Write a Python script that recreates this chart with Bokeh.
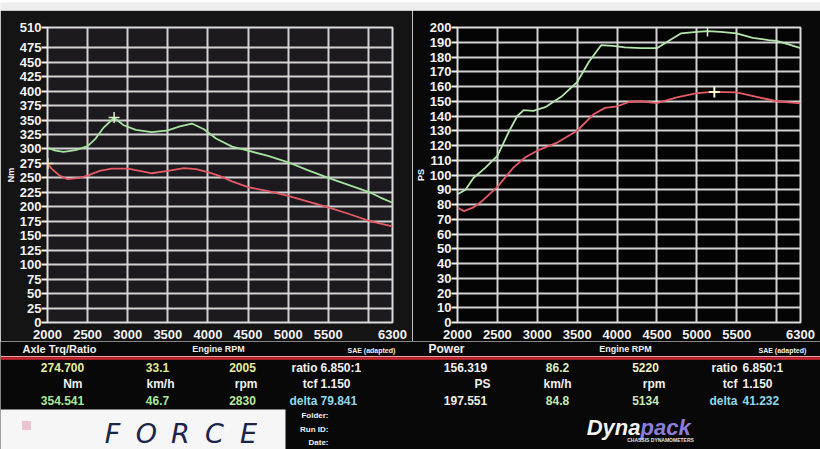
import math
from bokeh.plotting import figure
from bokeh.layouts import column, row
from bokeh.models import FixedTicker, Range1d, Span
from bokeh.embed import file_html
from bokeh.resources import INLINE
from bokeh.core.properties import value

# ---------------- data ----------------
# Axle torque (Nm) vs engine rpm
trq_green_rpm = [2000, 2100, 2200, 2350, 2500, 2600, 2700, 2830, 2950, 3100, 3300, 3500, 3650,
                 3800, 3950, 4100, 4300, 4500, 4750, 5000, 5250, 5500, 5750, 6000, 6150, 6300]
trq_green = [302, 297, 295, 298, 305, 318, 337, 354, 341, 333, 329, 332, 339,
             344, 334, 318, 304, 297, 288, 277, 263, 250, 238, 226, 216, 207]
trq_red_rpm = [2000, 2050, 2150, 2250, 2400, 2500, 2650, 2800, 3000, 3150, 3300, 3500, 3700,
               3850, 4000, 4150, 4300, 4500, 4750, 5000, 5250, 5500, 5750, 6000, 6150, 6300]
trq_red = [275, 266, 254, 248, 250, 254, 262, 266, 266, 262, 258, 262, 267,
           265, 260, 253, 244, 234, 227, 219, 209, 199, 188, 176, 171, 166]

# Power (PS) vs engine rpm
pwr_green_rpm = [2000, 2100, 2200, 2350, 2500, 2650, 2750, 2830, 2950, 3100, 3300, 3500, 3650,
                 3800, 3950, 4100, 4300, 4500, 4650, 4800, 5000, 5134, 5300, 5500, 5700, 5900,
                 6000, 6150, 6300]
pwr_green = [87, 90, 98, 105, 113, 130, 140, 144, 143.5, 146, 153, 163, 177,
             188, 187.5, 186.5, 186, 186, 191, 196, 197, 197.5, 197, 196, 193, 191.5,
             191, 188.5, 186]
pwr_red_rpm = [2000, 2080, 2200, 2300, 2500, 2700, 2850, 3000, 3250, 3500, 3700, 3850, 4000,
               4150, 4300, 4500, 4750, 5000, 5220, 5500, 5750, 6000, 6300]
pwr_red = [78, 75.5, 78, 82, 92, 105, 112, 116.5, 122, 130, 141, 145.5, 146.5,
           149.5, 150, 148.7, 152.7, 155.5, 156.3, 156, 153, 150, 148.5]

# cursor markers
trq_mark_rpm = [2005, 2830]
trq_mark_val = [274.7, 354.541]
pwr_mark_rpm = [5220, 5134]
pwr_mark_val = [156.319, 197.551]

rpm_ticks = [2000, 2500, 3000, 3500, 4000, 4500, 5000, 5500, 6300]
rpm_grid = [2000, 2500, 3000, 3500, 4000, 4500, 5000, 5500, 6000, 6300]
nm_ticks = [0, 25, 50, 75, 100, 125, 150, 175, 200, 225, 250, 275, 300, 325, 350, 375,
            400, 425, 450, 475, 510]
ps_ticks = [0, 10, 20, 30, 40, 50, 60, 70, 80, 90, 100, 110, 120, 130, 140, 150, 160,
            170, 180, 190, 200]

# readout panel
left_row1 = ["274.700", "33.1", "2005"]
left_row3 = ["354.541", "46.7", "2830"]
right_row1 = ["156.319", "86.2", "5220"]
right_row3 = ["197.551", "84.8", "5134"]
units_left = ["Nm", "km/h", "rpm"]
units_right = ["PS", "km/h", "rpm"]
ratio_text = "6.850:1"
tcf_text = "1.150"
delta_left = "79.841"
delta_right = "41.232"

FONT_NAME = "Liberation Sans"
FONT = value(FONT_NAME)
GRID = "#dcdcdc"
GREEN = "#a6e2a0"
RED = "#e65a68"
TOP_H = 331


def make_chart(width, b_left, b_right, b_top, b_bottom, y_max, y_ticks, y_label, bg, outer):
    p = figure(width=width, height=TOP_H, x_range=Range1d(2000, 6300), y_range=Range1d(0, y_max),
               output_backend="svg", toolbar_location=None,
               min_border_left=b_left, min_border_right=b_right, min_border_top=b_top,
               min_border_bottom=b_bottom,
               background_fill_color=bg, border_fill_color=outer,
               outline_line_color=GRID, outline_line_width=2)
    p.xaxis.ticker = FixedTicker(ticks=rpm_ticks)
    p.yaxis.ticker = FixedTicker(ticks=y_ticks)
    p.xgrid.ticker = FixedTicker(ticks=rpm_grid)
    p.ygrid.ticker = FixedTicker(ticks=y_ticks)
    p.grid.grid_line_color = GRID
    p.grid.grid_line_width = 2
    p.grid.grid_line_alpha = 0.95
    p.axis.axis_line_color = None
    p.axis.minor_tick_line_color = None
    p.axis.major_label_text_color = "#f2f2f2"
    p.axis.major_label_text_font = FONT_NAME
    p.axis.major_label_text_font_style = "bold"
    p.axis.major_label_text_font_size = "13px"
    p.xaxis.major_tick_line_color = None
    p.xaxis.major_label_standoff = 1
    p.yaxis.major_tick_line_color = "#f2f2f2"
    p.yaxis.major_tick_line_width = 2
    p.yaxis.major_tick_out = 6
    p.yaxis.major_tick_in = 0
    p.yaxis.major_label_standoff = 0
    p.yaxis.axis_label = y_label
    p.yaxis.axis_label_text_font = FONT_NAME
    p.yaxis.axis_label_text_font_style = "bold"
    p.yaxis.axis_label_text_font_size = "9px"
    p.yaxis.axis_label_text_color = "#f2f2f2"
    p.yaxis.axis_label_standoff = 1
    return p


# thin bright bezel strip at the very top of the photo
strip = figure(width=820, height=10, output_backend="svg", toolbar_location=None, min_border=0,
               x_axis_location=None, y_axis_location=None, x_range=Range1d(0, 1), y_range=Range1d(0, 1),
               background_fill_color="#eeeeee", border_fill_color="#eeeeee", outline_line_color=None)
strip.grid.visible = False

left = make_chart(412, 47, 20, 17, 17, 510, nm_ticks, "Nm", "#1c1a1e", "#141414")
left.line(trq_green_rpm, trq_green, line_color=GREEN, line_width=1.8)
left.line(trq_red_rpm, trq_red, line_color=RED, line_width=1.8)
left.scatter(trq_mark_rpm, trq_mark_val, marker="cross", size=11,
             line_color=["#e8e8b0", "#d8f0c0"], line_width=1.5)

right = make_chart(408, 41, 20, 16, 18, 200, ps_ticks, "PS", "#040404", "#090909")
right.line(pwr_green_rpm, pwr_green, line_color="#b4e6ac", line_width=1.8)
right.line(pwr_red_rpm, pwr_red, line_color=RED, line_width=1.8)
right.scatter(pwr_mark_rpm[:1], pwr_mark_val[:1], marker="cross", size=11,
              line_color="#fff4d0", line_width=2)
right.scatter(pwr_mark_rpm[1:], pwr_mark_val[1:], marker="dash", angle=math.pi / 2, size=11,
              line_color="#d8f0c0", line_width=1.5)

# ---------------- readout panel ----------------
b = figure(width=820, height=108, x_range=Range1d(0, 820), y_range=Range1d(108, 0),
           output_backend="svg", toolbar_location=None, min_border=0,
           x_axis_location=None, y_axis_location=None,
           background_fill_color="#080808", border_fill_color="#080808",
           outline_line_color=None)
b.grid.visible = False


def txt(x, y, t, size="12px", color="#f0f0f0", align="center", style="bold", font=FONT):
    b.text(x=[x], y=[y], text=[t], text_font=font, text_font_style=style,
           text_font_size=size, text_color=color, text_align=align, text_baseline="middle")


# header row
txt(22, 7, "Axle Trq/Ratio", "11px", align="left")
txt(218, 7, "Engine RPM", "9px")
txt(347, 9, "SAE (adapted)", "7px", align="left")
txt(428, 7, "Power", "12px", align="left")
txt(625, 7, "Engine RPM", "9px")
txt(758, 9, "SAE (adapted)", "7px", align="left")

b.add_layout(Span(location=15, dimension="width", line_color="#f3a0a8", line_width=1))
b.add_layout(Span(location=17, dimension="width", line_color="#d0282e", line_width=2.5))

# left block
lc1 = ["#e6eea0", "#e2e890", "#e8ec9c"]
lc3 = ["#a8e898", "#a8e898", "#b8e8a0"]
xs = [62, 157, 242]
for i in range(3):
    txt(xs[i], 26, left_row1[i], color=lc1[i])
    txt(xs[i], 59, left_row3[i], color=lc3[i])
txt(82, 42, units_left[0], align="right")
txt(160, 42, units_left[1])
txt(257, 42, units_left[2], align="right")
txt(317, 26, "ratio", align="right")
txt(320, 26, ratio_text, align="left")
txt(317, 42, "tcf", align="right")
txt(320, 42, tcf_text, align="left")
txt(317, 59, "delta", color="#90d8ea", align="right")
txt(320, 59, delta_left, color="#90d8ea", align="left")

# right block
rc1 = ["#f0f0f0", "#d8ecc0", "#eef0c0"]
rc3 = ["#f0f0e0", "#c8e8b0", "#c8e8b8"]
xr = [465, 557, 645]
for i in range(3):
    txt(xr[i], 26, right_row1[i], color=rc1[i])
    txt(xr[i], 59, right_row3[i], color=rc3[i])
txt(490, 42, units_right[0], align="right")
txt(557, 42, units_right[1])
txt(665, 42, units_right[2], align="right")
txt(737, 26, "ratio", align="right")
txt(742, 26, ratio_text, align="left")
txt(737, 42, "tcf", align="right")
txt(742, 42, tcf_text, align="left")
txt(737, 59, "delta", color="#90d8ea", align="right")
txt(742, 59, delta_right, color="#90d8ea", align="left")

# FORCE logo box
b.quad(left=0, right=285, bottom=108, top=68, fill_color="#f6f6f6", line_color=None)
b.scatter([26], [84], marker="square", size=9, fill_color="#e8a0bc", line_color=None, alpha=0.6)
for i, ch in enumerate("FORCE"):
    txt(112 + 34 * i, 92, ch, "27px", color="#1c2448", style="italic", font=value("DejaVu Sans"))

txt(328, 74, "Folder:", "8px", align="right")
txt(328, 88, "Run ID:", "8px", align="right")
txt(328, 101, "Date:", "8px", align="right")

# Dynapack logo
txt(640, 86, "Dyna", "22px", color="#f4f4f4", align="right", style="bold italic")
txt(640, 86, "pack", "22px", color="#8a7ed8", align="left", style="bold italic")
txt(660, 98, "CHASSIS DYNAMOMETERS", "5px", color="#e0e0e0")

page = column(strip, row(left, right), b)
open("out.html", "w").write(file_html(page, INLINE))
